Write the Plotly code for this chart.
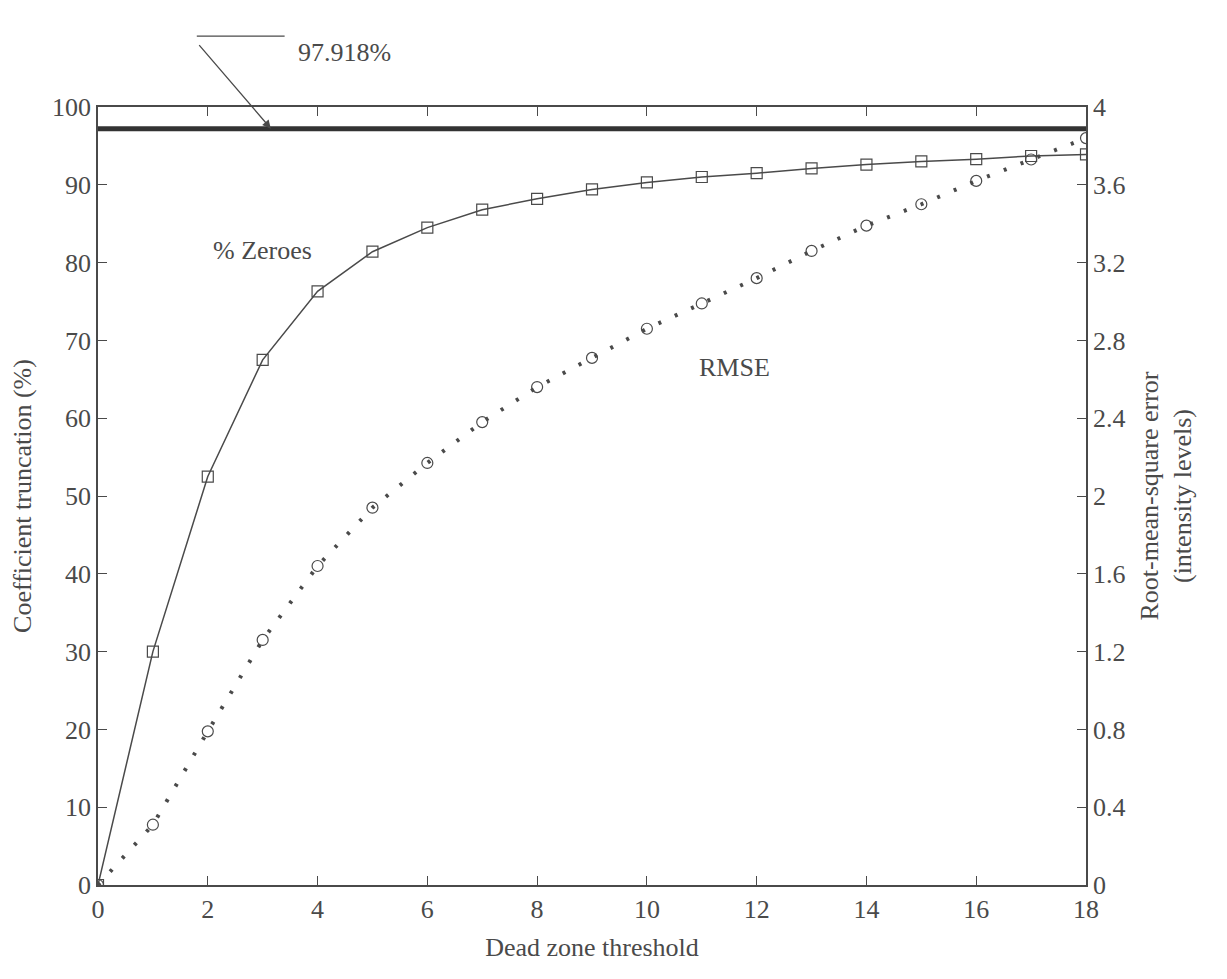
import plotly.graph_objects as go

thresholds = list(range(19))
pct_zeroes = [0, 30, 52.5, 67.5, 76.3, 81.4, 84.5, 86.8, 88.2, 89.4, 90.3, 91.0,
              91.5, 92.1, 92.6, 93.0, 93.3, 93.7, 93.9]
rmse = [0, 0.31, 0.79, 1.26, 1.64, 1.94, 2.17, 2.38, 2.56, 2.71, 2.86, 2.99,
        3.12, 3.26, 3.39, 3.50, 3.62, 3.73, 3.84]
max_zeroes = 97.918

ink = "#4a4a4a"
font = dict(family="Liberation Serif, DejaVu Serif, serif", size=26, color=ink)

fig = go.Figure()
fig.add_trace(go.Scatter(x=thresholds, y=pct_zeroes, mode="lines+markers",
                         line=dict(color=ink, width=1.5),
                         marker=dict(symbol="square-open", size=11, color=ink, line=dict(width=1.2))))
fig.add_trace(go.Scatter(x=thresholds, y=rmse, yaxis="y2", mode="lines+markers",
                         line=dict(color=ink, width=4, dash="3px,15px"),
                         marker=dict(symbol="circle-open", size=11, color=ink, line=dict(width=1.2))))
fig.add_trace(go.Scatter(x=[0, 18], y=[max_zeroes - 0.7, max_zeroes - 0.7], mode="lines",
                         line=dict(color="#333", width=5)))
fig.add_trace(go.Scatter(x=[None], y=[None], xaxis="x2"))

axis_common = dict(showgrid=False, zeroline=False, ticks="inside", ticklen=9,
                   tickcolor=ink, linecolor=ink, linewidth=1.5, tickfont=font)
fig.update_layout(
    width=1227, height=979, showlegend=False,
    plot_bgcolor="white", paper_bgcolor="white", font=font,
    margin=dict(l=90, r=149, t=99, b=102),
    xaxis=dict(range=[0, 18], dtick=2, title=dict(text="Dead zone threshold", font=font),
               showline=True, **axis_common),
    xaxis2=dict(range=[0, 18], dtick=2, overlaying="x", side="top", showticklabels=False,
                showline=True, **axis_common),
    yaxis=dict(range=[0, 100], dtick=10, title=dict(text="Coefficient truncation (%)", font=font),
               showline=True, **axis_common),
    yaxis2=dict(range=[0, 4], dtick=0.4, overlaying="y", side="right", showline=True,
                title=dict(text="Root-mean-square error<br>(intensity levels)", font=font),
                tickformat=".1~f", **axis_common),
)

fig.add_annotation(x=3.0, y=81.5, text="% Zeroes", showarrow=False, font=font)
fig.add_annotation(x=11.6, y=66.5, text="RMSE", showarrow=False, font=font)
fig.add_annotation(x=3.15, y=max_zeroes - 0.7, xref="x", yref="y", ax=-73, ay=-85,
                   showarrow=True, arrowhead=2, arrowsize=1.3, arrowwidth=1.3,
                   arrowcolor=ink, text="")
fig.add_shape(type="line", x0=1.8, y0=1.091, x1=3.4, y1=1.091, xref="x", yref="paper",
              line=dict(color=ink, width=1.3))
fig.add_annotation(x=3.6, y=1.091, xref="x", yref="paper", text="97.918%",
                   showarrow=False, xanchor="left", font=font)

fig.write_html("out.html")
